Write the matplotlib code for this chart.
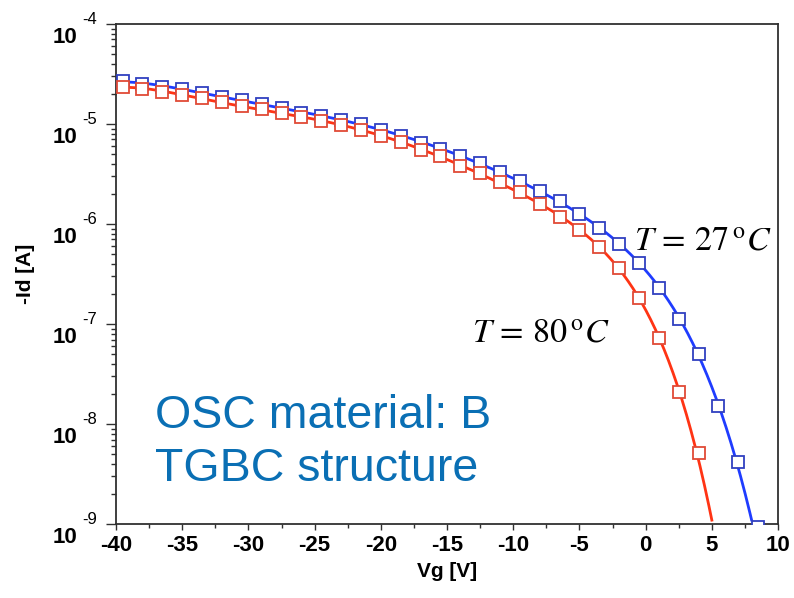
import numpy as np
import matplotlib
matplotlib.use("Agg")
from matplotlib import pyplot as plt
from matplotlib.ticker import MultipleLocator, LogLocator, NullFormatter

# gate voltage of the measured points (same for both temperatures)
vg = [-39.5, -38.0, -36.5, -35.0, -33.5, -32.0, -30.5, -29.0, -27.5, -26.0,
      -24.5, -23.0, -21.5, -20.0, -18.5, -17.0, -15.5, -14.0, -12.5, -11.0,
      -9.5, -8.0, -6.5, -5.0, -3.5, -2.0, -0.5, 1.0, 2.5, 4.0, 5.5, 7.0, 8.5]

# -Id [A] at T = 27 C
id_27 = [2.7e-5, 2.5e-5, 2.35e-5, 2.25e-5, 2.05e-5, 1.85e-5, 1.75e-5, 1.6e-5,
         1.45e-5, 1.3e-5, 1.2e-5, 1.1e-5, 1.0e-5, 8.7e-6, 7.6e-6, 6.5e-6,
         5.6e-6, 4.8e-6, 4.1e-6, 3.3e-6, 2.7e-6, 2.15e-6, 1.7e-6, 1.25e-6,
         9.1e-7, 6.3e-7, 4.1e-7, 2.3e-7, 1.12e-7, 5.0e-8, 1.5e-8, 4.2e-9,
         9.3e-10]

# -Id [A] at T = 80 C (stops at 4 V)
id_80 = [2.35e-5, 2.25e-5, 2.1e-5, 1.95e-5, 1.8e-5, 1.65e-5, 1.5e-5, 1.4e-5,
         1.3e-5, 1.17e-5, 1.07e-5, 9.8e-6, 8.7e-6, 7.6e-6, 6.6e-6, 5.5e-6,
         4.8e-6, 3.8e-6, 3.2e-6, 2.6e-6, 2.1e-6, 1.6e-6, 1.17e-6, 8.7e-7,
         5.9e-7, 3.6e-7, 1.8e-7, 7.2e-8, 2.1e-8, 5.1e-9]

# where the fitted curves reach the bottom of the plot
end_27 = (8.0, 1e-9)
end_80 = (5.0, 1e-9)

decades = [-9, -8, -7, -6, -5, -4]

blue_line, blue_mk = '#1f3cff', '#3040c0'
red_line, red_mk = '#ff3414', '#e04a36'
text_blue = '#0a6fb4'


def fit_curve(x, y, end, start=-40.0, deg=6):
    # smooth fit of log10(I) vs Vg, drawn as the model line
    xs = list(x) + [end[0]]
    ys = list(np.log10(y)) + [np.log10(end[1])]
    p = np.polyfit(xs, ys, deg)
    xx = np.linspace(start, end[0], 400)
    return xx, 10 ** np.polyval(p, xx)


plt.rcParams['font.family'] = ['Liberation Sans', 'DejaVu Sans']
plt.rcParams['mathtext.fontset'] = 'stix'
plt.rcParams['axes.unicode_minus'] = False

fig = plt.figure(figsize=(7.94, 5.98), dpi=100)
ax = fig.add_axes([0.1461, 0.1237, 0.8338, 0.8362])

x27, y27 = fit_curve(vg[:-1], id_27[:-1], end_27)
x80, y80 = fit_curve(vg[:len(id_80)], id_80, end_80)

ax.plot(x27, y27, color=blue_line, lw=2, zorder=2)
ax.plot(x80, y80, color=red_line, lw=2, zorder=2)
ax.plot(vg, id_27, ls='none', marker='s', ms=8, mfc='white', mec=blue_mk,
        mew=1.3, zorder=3)
ax.plot(vg[:len(id_80)], id_80, ls='none', marker='s', ms=8, mfc='white',
        mec=red_mk, mew=1.3, zorder=4)

ax.set_yscale('log')
ax.set_xlim(-40, 10)
ax.set_ylim(1e-9, 1e-4)

ax.xaxis.set_major_locator(MultipleLocator(5))
ax.xaxis.set_minor_locator(MultipleLocator(2.5))
ax.yaxis.set_major_locator(LogLocator(base=10, numticks=10))
ax.yaxis.set_minor_locator(LogLocator(base=10, subs=np.arange(2, 10), numticks=20))
ax.yaxis.set_major_formatter(NullFormatter())
ax.yaxis.set_minor_formatter(NullFormatter())

ax.tick_params(axis='x', which='major', direction='out', length=4, width=1,
               color='#303030', labelsize=16, pad=4)
ax.tick_params(axis='x', which='minor', direction='out', length=3, width=1,
               color='#303030')
ax.tick_params(axis='y', which='major', direction='out', length=7, width=1,
               color='#303030')
ax.tick_params(axis='y', which='minor', direction='out', length=3.5, width=1,
               color='#303030')
for lab in ax.get_xticklabels():
    lab.set_fontweight('bold')

for s in ax.spines.values():
    s.set_color('#303030')
    s.set_linewidth(1.3)

# y tick labels: bold "10" with a small raised exponent
for d in decades:
    ax.annotate('10', xy=(0, 10.0 ** d), xycoords=('axes fraction', 'data'),
                xytext=(-28, -10), textcoords='offset points', ha='right',
                va='center', fontsize=16, fontweight='bold')
    ax.annotate(str(d), xy=(0, 10.0 ** d), xycoords=('axes fraction', 'data'),
                xytext=(-13.5, 3.5), textcoords='offset points', ha='right',
                va='center', fontsize=12)

ax.set_xlabel('Vg [V]', fontsize=15, fontweight='bold', labelpad=4)
ax.set_ylabel('-Id [A]', fontsize=15, fontweight='bold', labelpad=48)

ax.text(0.7825, 0.548, r'$T\,=\,27\,{}^{\mathrm{o}}C$', transform=ax.transAxes,
        fontsize=24.5, ha='left', va='baseline')
ax.text(0.538, 0.364, r'$T\,=\,80\,{}^{\mathrm{o}}C$', transform=ax.transAxes,
        fontsize=24.5, ha='left', va='baseline')

ax.text(0.059, 0.192, 'OSC material: B', transform=ax.transAxes,
        fontsize=33.5, color=text_blue, ha='left', va='baseline')
ax.text(0.059, 0.086, 'TGBC structure', transform=ax.transAxes,
        fontsize=33.5, color=text_blue, ha='left', va='baseline')

fig.savefig('out.png', dpi=100)
